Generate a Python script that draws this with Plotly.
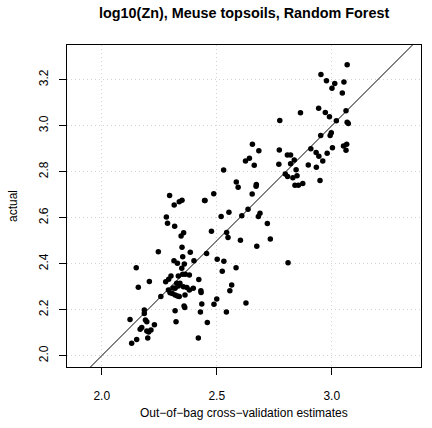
import plotly.graph_objects as go

# Out-of-bag cross-validation estimates (x) and actual log10(Zn) (y)
oob = [3.067, 2.953, 2.977, 3.013, 3.001, 3.053, 3.046, 2.864, 2.943, 2.972,
       2.990, 3.062, 3.020, 3.067, 3.072, 2.998, 2.993, 2.952, 2.774, 2.655,
       2.683, 2.772, 2.909, 2.932, 2.944, 2.961, 2.980, 3.003, 3.051, 3.065,
       3.062, 2.642, 2.625, 2.663, 2.770, 2.807, 2.821, 2.837, 2.821, 2.845,
       2.898, 2.933, 2.798, 2.808, 2.831, 2.849, 2.840, 2.855, 2.874, 2.949,
       2.530, 2.585, 2.593, 2.672, 2.671, 2.487, 2.654, 2.449, 2.636, 2.553,
       2.519, 2.609, 2.688, 2.681, 2.720, 2.477, 2.543, 2.549, 2.603, 2.733,
       2.674, 2.295, 2.315, 2.337, 2.349, 2.447, 2.281, 2.286, 2.317, 2.356,
       2.345, 2.349, 2.246, 2.352, 2.385, 2.456, 2.314, 2.329, 2.359, 2.401,
       2.502, 2.531, 2.810, 2.150, 2.348, 2.524, 2.584, 2.301, 2.333, 2.363,
       2.381, 2.278, 2.207, 2.422, 2.326, 2.340, 2.333, 2.159, 2.319, 2.355,
       2.370, 2.381, 2.398, 2.431, 2.432, 2.290, 2.297, 2.307, 2.319, 2.329,
       2.337, 2.257, 2.362, 2.565, 2.557, 2.500, 2.488, 2.627, 2.435, 2.358,
       2.319, 2.429, 2.542, 2.185, 2.185, 2.123, 2.323, 2.190, 2.196, 2.229,
       2.459, 2.174, 2.167, 2.214, 2.196, 2.204, 2.152, 2.130, 2.200, 2.420,
       2.291, 2.352, 2.361, 2.310]
actual = [3.265, 3.223, 3.196, 3.184, 3.163, 3.190, 3.142, 3.056, 3.076, 3.057,
          3.039, 3.065, 3.022, 3.015, 3.010, 2.970, 2.957, 2.957, 3.023, 2.920,
          2.891, 2.894, 2.900, 2.884, 2.867, 2.847, 2.880, 2.904, 2.912, 2.919,
          2.893, 2.859, 2.847, 2.828, 2.833, 2.873, 2.873, 2.851, 2.835, 2.809,
          2.829, 2.819, 2.790, 2.779, 2.774, 2.783, 2.741, 2.741, 2.749, 2.762,
          2.807, 2.755, 2.732, 2.744, 2.737, 2.704, 2.703, 2.675, 2.637, 2.624,
          2.605, 2.609, 2.619, 2.605, 2.575, 2.541, 2.536, 2.514, 2.502, 2.508,
          2.476, 2.697, 2.655, 2.669, 2.676, 2.675, 2.603, 2.576, 2.563, 2.535,
          2.521, 2.472, 2.452, 2.430, 2.450, 2.444, 2.413, 2.402, 2.399, 2.413,
          2.420, 2.411, 2.404, 2.382, 2.380, 2.367, 2.383, 2.347, 2.347, 2.354,
          2.351, 2.322, 2.323, 2.331, 2.315, 2.315, 2.303, 2.298, 2.293, 2.300,
          2.297, 2.286, 2.293, 2.283, 2.275, 2.286, 2.274, 2.271, 2.264, 2.260,
          2.257, 2.257, 2.264, 2.308, 2.282, 2.247, 2.224, 2.229, 2.225, 2.216,
          2.196, 2.190, 2.190, 2.199, 2.184, 2.158, 2.148, 2.155, 2.148, 2.135,
          2.145, 2.123, 2.115, 2.112, 2.107, 2.103, 2.071, 2.054, 2.077, 2.077,
          2.332, 2.354, 2.210, 2.294]

x_ticks = [2.0, 2.5, 3.0]
y_ticks = [2.0, 2.2, 2.4, 2.6, 2.8, 3.0, 3.2]
x_range = [1.849, 3.388]
y_range = [1.951, 3.351]
one_to_one = [1.8, 3.5]

FONT = "Liberation Sans, Arial, Helvetica, sans-serif"

fig = go.Figure()
fig.add_trace(go.Scatter(x=one_to_one, y=one_to_one, mode="lines",
                         line=dict(color="black", width=1), hoverinfo="skip",
                         showlegend=False))
fig.add_trace(go.Scatter(x=oob, y=actual, mode="markers",
                         marker=dict(color="black", size=5.5, line=dict(width=0)),
                         showlegend=False))

axis_common = dict(showline=True, mirror=True, linecolor="black", linewidth=1,
                   ticks="outside", ticklen=7, tickcolor="black", tickwidth=1,
                   showgrid=True, gridcolor="#d3d3d3", griddash="1px,3px", gridwidth=1,
                   zeroline=False, tickfont=dict(family=FONT, size=12, color="black"))

fig.update_xaxes(range=x_range, tickvals=x_ticks, ticktext=[f"{v:.1f}" for v in x_ticks],
                 ticklabelstandoff=11, **axis_common)
fig.update_yaxes(range=y_range, tickvals=y_ticks, ticktext=[f"{v:.1f}" for v in y_ticks],
                 tickangle=-90, ticklabelstandoff=6, **axis_common)

fig.update_layout(
    width=432, height=428,
    margin=dict(l=67, r=11, t=45, b=61),
    paper_bgcolor="white", plot_bgcolor="white",
    font=dict(family=FONT, size=12, color="black"),
    annotations=[
        dict(text="<b>log10(Zn), Meuse topsoils, Random Forest</b>", x=0.5, y=1,
             xref="paper", yref="paper", xanchor="center", yanchor="middle",
             yshift=32, showarrow=False, font=dict(family=FONT, size=14.4)),
        dict(text="Out\u2212of\u2212bag cross\u2212validation estimates", x=0.5, y=0,
             xref="paper", yref="paper", xanchor="center", yanchor="middle",
             yshift=-46, showarrow=False, font=dict(family=FONT, size=12)),
        dict(text="actual", x=0, y=0.5, xref="paper", yref="paper",
             xanchor="center", yanchor="middle", xshift=-54, textangle=-90,
             showarrow=False, font=dict(family=FONT, size=12)),
    ],
)

fig.write_html("out.html")
